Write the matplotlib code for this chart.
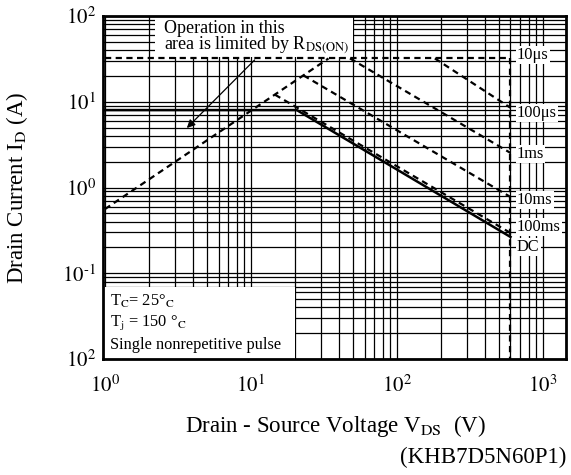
import matplotlib
matplotlib.use('Agg')
import matplotlib.pyplot as plt
from matplotlib.ticker import FixedLocator, FixedFormatter, LogLocator, NullFormatter
from matplotlib.patches import Rectangle

plt.rcParams['font.family'] = ['Liberation Serif', 'DejaVu Serif']
plt.rcParams['mathtext.fontset'] = 'stix'

# ---- data (V in volts, I in amps) ----
rds_v = [1, 34]
rds_i = [0.56, 32]
us10_v = [1, 600]
us10_i = [32, 32]
us100_v = [182, 600]
us100_i = [32, 8.5]
ms1_v = [47.7, 600]
ms1_i = [32, 2.53]
ms10_v = [22.9, 600]
ms10_i = [20.3, 0.775]
ms100_v = [14.6, 600]
ms100_i = [12.1, 0.295]
dc_v = [1, 20.6, 600]
dc_i = [8.0, 8.0, 0.265]
bv_v = [600, 600]
bv_i = [32, 0.01]

curve_labels = ['10μs', '100μs', '1ms', '10ms', '100ms', 'DC']
label_i = [35, 7.4, 2.46, 0.715, 0.346, 0.202]

xticks = [1, 10, 100, 1000]
xticklabels = ['$10^0$', '$10^1$', '$10^2$', '$10^3$']
yticks = [0.01, 0.1, 1, 10, 100]
yticklabels = ['$10^2$', '$10^{\\text{-1}}$', '$10^0$', '$10^1$', '$10^2$']

W, H = 571, 475
fig = plt.figure(figsize=(W / 100, H / 100), dpi=100)
ax = fig.add_axes([103 / W, 1 - 359 / H, (566 - 103) / W, (359 - 16) / H])
ax.set_xscale('log')
ax.set_yscale('log')
ax.set_xlim(0.97, 1440)
ax.set_ylim(0.01, 100)

ax.xaxis.set_major_locator(FixedLocator(xticks))
ax.xaxis.set_major_formatter(FixedFormatter(xticklabels))
ax.xaxis.set_minor_locator(LogLocator(base=10, subs=range(2, 10), numticks=20))
ax.xaxis.set_minor_formatter(NullFormatter())
ax.yaxis.set_major_locator(FixedLocator(yticks))
ax.yaxis.set_major_formatter(FixedFormatter(yticklabels))
ax.yaxis.set_minor_locator(LogLocator(base=10, subs=range(2, 10), numticks=20))
ax.yaxis.set_minor_formatter(NullFormatter())
ax.tick_params(which='both', length=0)
ax.tick_params(axis='y', labelsize=15, pad=5)
ax.tick_params(axis='x', labelsize=15, pad=12)
ax.set_axisbelow(True)
ax.grid(which='both', color='black', lw=0.9)
for s in ax.spines.values():
    s.set_linewidth(2)

dash = (0, (2.8, 2.0))
lw = 1.6
ax.plot(rds_v, rds_i, color='black', lw=lw, ls=dash, zorder=4)
ax.plot(us10_v, us10_i, color='black', lw=lw, ls=dash, zorder=4)
ax.plot(us100_v, us100_i, color='black', lw=lw, ls=dash, zorder=4)
ax.plot(ms1_v, ms1_i, color='black', lw=lw, ls=dash, zorder=4)
ax.plot(ms10_v, ms10_i, color='black', lw=lw, ls=dash, zorder=4)
ax.plot(ms100_v, ms100_i, color='black', lw=lw, ls=dash, zorder=4)
ax.plot(bv_v, bv_i, color='black', lw=lw, ls=dash, zorder=4)
ax.plot(dc_v, dc_i, color='black', lw=1.8, ls='-', zorder=4)

# white boxes covering the grid
ax.add_patch(Rectangle((2.2, 33), 50 - 2.2, 100 - 33, facecolor='white',
                       edgecolor='none', zorder=2))
ax.add_patch(Rectangle((0.97, 0.01), 20 - 0.97, 0.07 - 0.01, facecolor='white',
                       edgecolor='none', zorder=2))

fig.text(164 / W, 1 - 38 / H, 'Operation in this\narea is limited by R$_{\\rm DS(ON)}$',
         fontsize=13, va='center', ha='left', linespacing=0.9, zorder=5)
ax.annotate('', xy=(3.64, 4.94), xytext=(10.6, 30.7),
            arrowprops=dict(arrowstyle='-|>', lw=0.9, color='black',
                            mutation_scale=12, shrinkA=0, shrinkB=0), zorder=5)

fig.text(110 / W, 1 - 323 / H,
         'T$_{\\rm C}$= 25°$_{\\rm C}$\nT$_{\\rm j}$ = 150 °$_{\\rm C}$\nSingle nonrepetitive pulse',
         fontsize=11.8, va='center', ha='left', linespacing=1.3, zorder=5)

for lab, yi in zip(curve_labels, label_i):
    ax.text(664, yi, lab, fontsize=11.8, va='center', ha='left', zorder=5,
            bbox=dict(facecolor='white', edgecolor='none', pad=0.8))

fig.text(17 / W, 1 - 188 / H, 'Drain Current I$_{\\rm D}$ (A)', rotation=90,
         fontsize=16.5, ha='center', va='center')
fig.text(336 / W, 1 - 426 / H, 'Drain - Source Voltage V$_{\\rm DS}$  (V)',
         fontsize=16.5, ha='center', va='center')
fig.text(566 / W, 1 - 457 / H, '(KHB7D5N60P1)', fontsize=16.5, ha='right', va='center')

fig.savefig('out.png', dpi=100)
